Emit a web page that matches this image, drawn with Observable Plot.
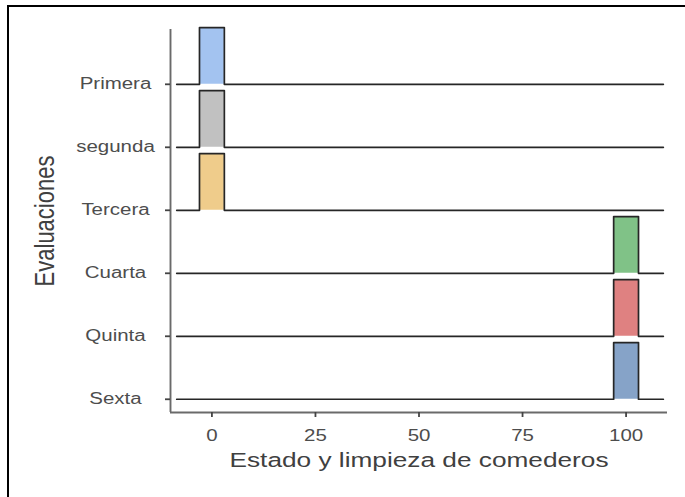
<!DOCTYPE html>
<html>
<head>
<meta charset="utf-8">
<script src="https://cdn.jsdelivr.net/npm/d3@7"></script>
<script src="https://cdn.jsdelivr.net/npm/@observablehq/plot@0.6"></script>
<style>
  html, body { margin: 0; padding: 0; background: #fff; overflow: hidden; }
  #wrap { position: relative; width: 685px; height: 497px; }
  #border { position: absolute; left: 7px; top: 5px; width: 700px; height: 520px;
            border-top: 2px solid #000; border-left: 2px solid #000; pointer-events: none; }
  #chart { position: absolute; left: 0; top: 0; }
</style>
</head>
<body>
<div id="wrap"><div id="chart"></div><div id="border"></div></div>
<script>
// ---- data ----
const evaluaciones = ["Primera", "segunda", "Tercera", "Cuarta", "Quinta", "Sexta"];
const valores = [0, 0, 0, 100, 100, 100];          // Estado y limpieza de comederos
const colores = ["#a3c3f0", "#c1c1c1", "#efcc8b", "#80c287", "#df8181", "#86a3c8"];
const alturaDensidad = 0.9;                        // scaled ridge height
const anchoDensidad = 3;                           // half width of each ridge
const rangoDensidad = [-8.5, 109];                 // extent of the density lines
const xTicks = [0, 25, 50, 75, 100];
const xDomain = [-10, 110];
const yDomain = [0.79, 6.87];

// ---- derived tables ----
const n = evaluaciones.length;
const filas = evaluaciones.map((e, i) => ({e, pos: n - i, v: valores[i], color: colores[i]}));
const contorno = filas.flatMap(f => [
  {e: f.e, x: rangoDensidad[0], y: f.pos},
  {e: f.e, x: f.v - anchoDensidad, y: f.pos},
  {e: f.e, x: f.v - anchoDensidad, y: f.pos + alturaDensidad},
  {e: f.e, x: f.v + anchoDensidad, y: f.pos + alturaDensidad},
  {e: f.e, x: f.v + anchoDensidad, y: f.pos},
  {e: f.e, x: rangoDensidad[1], y: f.pos}
]);
const relleno = filas.flatMap(f => [
  {e: f.e, color: f.color, x: f.v - anchoDensidad, y1: f.pos, y2: f.pos + alturaDensidad},
  {e: f.e, color: f.color, x: f.v + anchoDensidad, y1: f.pos, y2: f.pos + alturaDensidad}
]);

const font = "'Liberation Sans', Arial, sans-serif";

const chart = Plot.plot({
  width: 685,
  height: 497,
  marginLeft: 170,
  marginRight: 18,
  marginTop: 29,
  marginBottom: 85,
  style: {fontFamily: font, background: "transparent"},
  x: {domain: xDomain, axis: null},
  y: {domain: yDomain, axis: null},
  marks: [
    ...filas.map(f => Plot.areaY(relleno.filter(d => d.e === f.e),
      {x: "x", y1: "y1", y2: "y2", fill: "color", curve: "linear"})),
    Plot.line(contorno, {x: "x", y: "y", z: "e", stroke: "#262626", strokeWidth: 1.7, curve: "linear"}),
    Plot.ruleY([yDomain[0]], {stroke: "#6a6a6a", strokeWidth: 1.9}),
    Plot.ruleX([xDomain[0]], {stroke: "#6a6a6a", strokeWidth: 1.9}),
    Plot.axisX({ticks: xTicks, tickSize: 5, tickPadding: 12, fontSize: 16, stroke: "#444", strokeWidth: 1.8,
                fill: "#4d4d4d", label: null}),
    Plot.axisY({ticks: filas.map(f => f.pos), tickSize: 5, tickFormat: () => "", stroke: "#444",
                strokeWidth: 1.8, label: null}),
    Plot.text(filas, {y: "pos", text: "e", frameAnchor: "left", dx: -55, textAnchor: "middle",
                      fontSize: 16, fill: "#4d4d4d"}),
    Plot.text(["Estado y limpieza de comederos"], {frameAnchor: "bottom", dy: 54, fontSize: 20.5, fill: "#404040"}),
    Plot.text(["Evaluaciones"], {frameAnchor: "left", dx: -126, rotate: -90, textAnchor: "middle",
                                 fontSize: 22, fill: "#404040"})
  ]
});

// horizontal stretch of the reference's text glyphs
const sx = 1.28;
chart.querySelectorAll("text").forEach(t => {
  const tr = t.getAttribute("transform") || "";
  if (tr.includes("rotate")) { t.setAttribute("transform", tr + ` scale(1,${sx})`); return; }
  if (tr) t.setAttribute("transform", tr + ` scale(${sx},1)`);
  else {
    const x = +t.getAttribute("x") || 0, y = +t.getAttribute("y") || 0;
    t.setAttribute("transform", `translate(${x},${y}) scale(${sx},1) translate(${-x},${-y})`);
  }
});
document.getElementById("chart").appendChild(chart);
</script>
</body>
</html>
